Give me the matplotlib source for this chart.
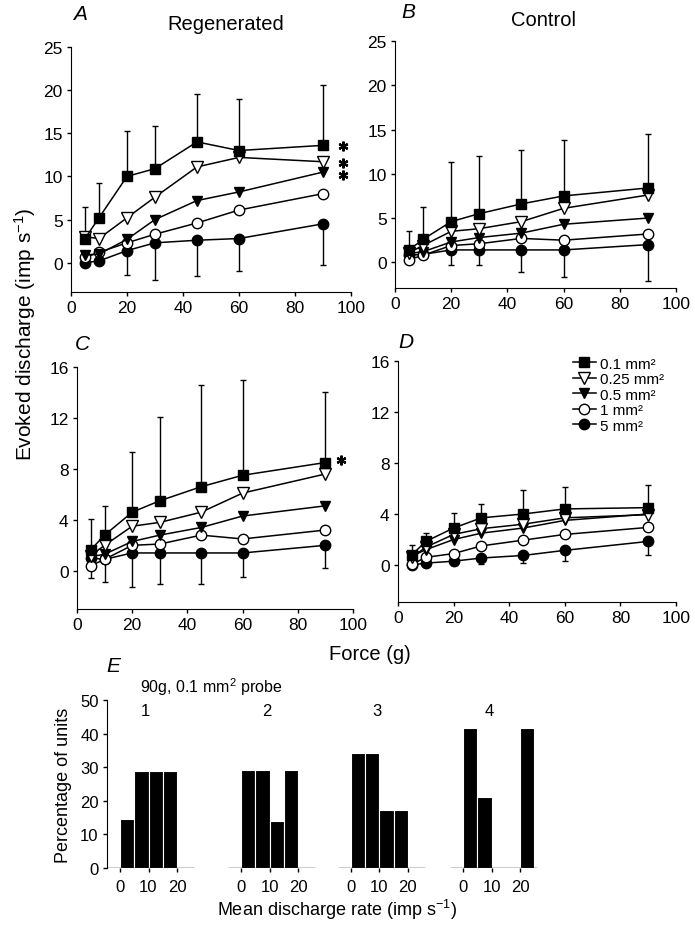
#Evoked discharge vs force for regenerated and control units, plus histograms
import matplotlib
matplotlib.use("Agg")
import matplotlib.pyplot as plt
import numpy as np

plt.rcParams['font.family'] = ['Liberation Sans', 'DejaVu Sans']
plt.rcParams['mathtext.fontset'] = 'custom'
plt.rcParams['mathtext.rm'] = 'Liberation Sans'
plt.rcParams['mathtext.it'] = 'Liberation Sans:italic'

force = [5, 10, 20, 30, 45, 60, 90]
probes = ['0.1 mm²', '0.25 mm²', '0.5 mm²', '1 mm²', '5 mm²']

# panel A - regenerated
a_01 = [2.8, 5.2, 10.0, 10.9, 14.0, 13.0, 13.6]
a_025 = [3.0, 2.8, 5.2, 7.6, 11.1, 12.2, 11.7]
a_05 = [0.9, 1.0, 2.7, 5.0, 7.2, 8.2, 10.5]
a_1 = [0.6, 1.2, 2.3, 3.3, 4.6, 6.1, 8.0]
a_5 = [0.0, 0.2, 1.4, 2.3, 2.6, 2.8, 4.5]
a_up = [3.7, 4.0, 5.3, 5.0, 5.5, 6.0, 7.0]
a_dn = [0, 0, 2.8, 4.3, 4.2, 3.8, 4.8]
a_stars = [13.5, 11.6, 10.2]

# panel B - control
b_01 = [1.4, 2.6, 4.6, 5.5, 6.6, 7.5, 8.4]
b_025 = [1.1, 1.9, 3.5, 3.8, 4.6, 6.1, 7.6]
b_05 = [1.0, 1.2, 2.3, 2.8, 3.3, 4.3, 5.0]
b_1 = [0.3, 0.8, 1.9, 2.1, 2.7, 2.5, 3.2]
b_5 = [0.8, 0.9, 1.4, 1.4, 1.4, 1.4, 2.0]
b_up = [2.1, 3.7, 6.7, 6.5, 6.1, 6.3, 6.1]
b_dn = [0, 0, 1.7, 1.7, 2.5, 3.1, 4.1]

# panel C - regenerated
c_01 = [1.65, 2.8, 4.6, 5.5, 6.6, 7.5, 8.5]
c_025 = [1.2, 2.0, 3.5, 3.8, 4.6, 6.1, 7.6]
c_05 = [1.1, 1.3, 2.3, 2.8, 3.4, 4.3, 5.1]
c_1 = [0.4, 0.9, 2.0, 2.1, 2.8, 2.5, 3.2]
c_5 = [1.0, 0.9, 1.4, 1.4, 1.4, 1.4, 2.0]
c_up = [2.45, 2.3, 4.7, 6.6, 8.0, 7.5, 5.5]
c_dn = [1.6, 1.75, 2.7, 2.4, 2.4, 1.9, 1.8]
c_stars = [8.7]

# panel D - control
d_01 = [0.8, 1.85, 2.9, 3.7, 4.0, 4.4, 4.5]
d_025 = [0.6, 1.4, 2.4, 2.85, 3.2, 3.7, 3.95]
d_05 = [0.7, 1.2, 2.0, 2.5, 2.9, 3.5, 4.0]
d_1 = [0.05, 0.6, 0.9, 1.5, 1.95, 2.4, 2.95]
d_5 = [0.0, 0.15, 0.3, 0.55, 0.75, 1.15, 1.85]
d_up = [0.8, 0.65, 1.2, 1.1, 1.9, 1.7, 1.8]
d_dn = [0, 0, 0.3, 0.5, 0.6, 0.8, 1.05]

# panel E - histograms, bins of 5 imp/s
bin_edges = [0, 5, 10, 15, 20]
hist_1 = [14.6, 28.9, 28.9, 28.9, 0]
hist_2 = [29.2, 29.2, 14.1, 29.2, 0]
hist_3 = [34.1, 34.1, 17.3, 17.3, 0]
hist_4 = [41.6, 21.0, 0, 0, 41.6]
hist_names = ['1', '2', '3', '4']

W, H = 695.0, 928.0
fig = plt.figure(figsize=(6.95, 9.28), dpi=100)

def pxAxes(left, right, top, bottom):
	return fig.add_axes([left / W, 1 - bottom / H, (right - left) / W, (bottom - top) / H])

def pxText(x, y, s, **kw):
	fig.text(x / W, 1 - y / H, s, **kw)

styles = [
	dict(marker='s', mfc='black', ms=6.5),
	dict(marker='v', mfc='white', ms=8),
	dict(marker='v', mfc='black', ms=7.5),
	dict(marker='o', mfc='white', ms=7.5),
	dict(marker='o', mfc='black', ms=7.5),
]

def forcePanel(ax, series, up, dn, ylim, yticks, stars=None, star_x=97, legend=False):
	ax.errorbar(force, series[0], yerr=[np.zeros(len(up)), up], fmt='none',
		ecolor='black', elinewidth=1, capsize=2, capthick=1, zorder=1)
	ax.errorbar(force, series[4], yerr=[dn, np.zeros(len(dn))], fmt='none',
		ecolor='black', elinewidth=1, capsize=2, capthick=1, zorder=1)
	for i, vals in enumerate(series):
		ax.plot(force, vals, color='black', lw=1.1, mec='black', mew=1,
			label=probes[i], zorder=3 + (4 - i), **styles[i])
	if stars:
		ax.plot([star_x] * len(stars), stars, ls='none', marker=(6, 2, 0),
			color='black', ms=7, mew=1.6, clip_on=False)
	ax.set_xlim(0, 100)
	ax.set_ylim(*ylim)
	ax.set_xticks([0, 20, 40, 60, 80, 100])
	ax.set_yticks(yticks)
	ax.spines['top'].set_visible(False)
	ax.spines['right'].set_visible(False)
	ax.tick_params(direction='out', length=3, width=1, labelsize=12.5, pad=3)
	if legend:
		ax.legend(loc='upper left', bbox_to_anchor=(565 / W, 1 - 350 / H),
			bbox_transform=fig.transFigure, frameon=False, fontsize=11,
			handlelength=1.5, handletextpad=0.3, labelspacing=0.1, borderpad=0)

def main():
	axA = pxAxes(71, 351, 48, 293)
	forcePanel(axA, [a_01, a_025, a_05, a_1, a_5], a_up, a_dn, (-3.4, 25),
		[0, 5, 10, 15, 20, 25], stars=a_stars, star_x=97)
	axB = pxAxes(395, 676, 42, 289)
	forcePanel(axB, [b_01, b_025, b_05, b_1, b_5], b_up, b_dn, (-2.9, 25),
		[0, 5, 10, 15, 20, 25])
	axC = pxAxes(77, 353, 368, 610)
	forcePanel(axC, [c_01, c_025, c_05, c_1, c_5], c_up, c_dn, (-3.0, 16),
		[0, 4, 8, 12, 16], stars=c_stars, star_x=95.6)
	axD = pxAxes(398, 676, 362, 603)
	forcePanel(axD, [d_01, d_025, d_05, d_1, d_5], d_up, d_dn, (-2.9, 16),
		[0, 4, 8, 12, 16], legend=True)

	# panel letters and titles
	pxText(80, 15, 'A', fontsize=15, style='italic', ha='center', va='center')
	pxText(408, 13, 'B', fontsize=15, style='italic', ha='center', va='center')
	pxText(82, 345, 'C', fontsize=15, style='italic', ha='center', va='center')
	pxText(406, 343, 'D', fontsize=15, style='italic', ha='center', va='center')
	pxText(113, 667, 'E', fontsize=15, style='italic', ha='center', va='center')
	pxText(226, 25, 'Regenerated', fontsize=14.5, ha='center', va='center')
	pxText(543, 20, 'Control', fontsize=14.5, ha='center', va='center')
	pxText(25, 334, 'Evoked discharge (imp s$^{-1}$)', fontsize=15, rotation=90,
		ha='center', va='center')
	pxText(370, 655, 'Force (g)', fontsize=14.5, ha='center', va='center')

	# histograms, four units side by side on one axis
	axE = pxAxes(107, 540, 701, 869)
	scale = 2.85
	offsets = [0, 42.5, 81, 120.4]
	hists = [hist_1, hist_2, hist_3, hist_4]
	ticks = []
	labels = []
	for off, vals, name in zip(offsets, hists, hist_names):
		left = [off + e for e in bin_edges]
		axE.bar(left, vals, width=5, align='edge', color='black',
			edgecolor='white', linewidth=0.8, zorder=2)
		axE.hlines(0, off - 4.5, off + 26, color='black', lw=1, zorder=3)
		axE.text(off + 9, 47, name, fontsize=12, ha='center', va='center')
		ticks += [off, off + 10, off + 20]
		labels += ['0', '10', '20']
	axE.set_xlim(-(120 - 107) / scale, (540 - 120) / scale)
	axE.set_ylim(0, 50)
	axE.set_yticks([0, 10, 20, 30, 40, 50])
	axE.set_xticks(ticks)
	axE.set_xticklabels(labels)
	for s in ['top', 'right', 'bottom']:
		axE.spines[s].set_visible(False)
	axE.tick_params(direction='out', length=3, width=1, labelsize=12, pad=3)
	axE.tick_params(axis='x', pad=5)
	axE.set_ylabel('Percentage of units', fontsize=13, labelpad=6)
	pxText(211, 687, '90g, 0.1 mm$^2$ probe', fontsize=11.5, ha='center', va='center')
	pxText(337, 910, 'Mean discharge rate (imp s$^{-1}$)', fontsize=13,
		ha='center', va='center')

	fig.savefig('out.png', dpi=100)

if __name__ == "__main__":
	main()
